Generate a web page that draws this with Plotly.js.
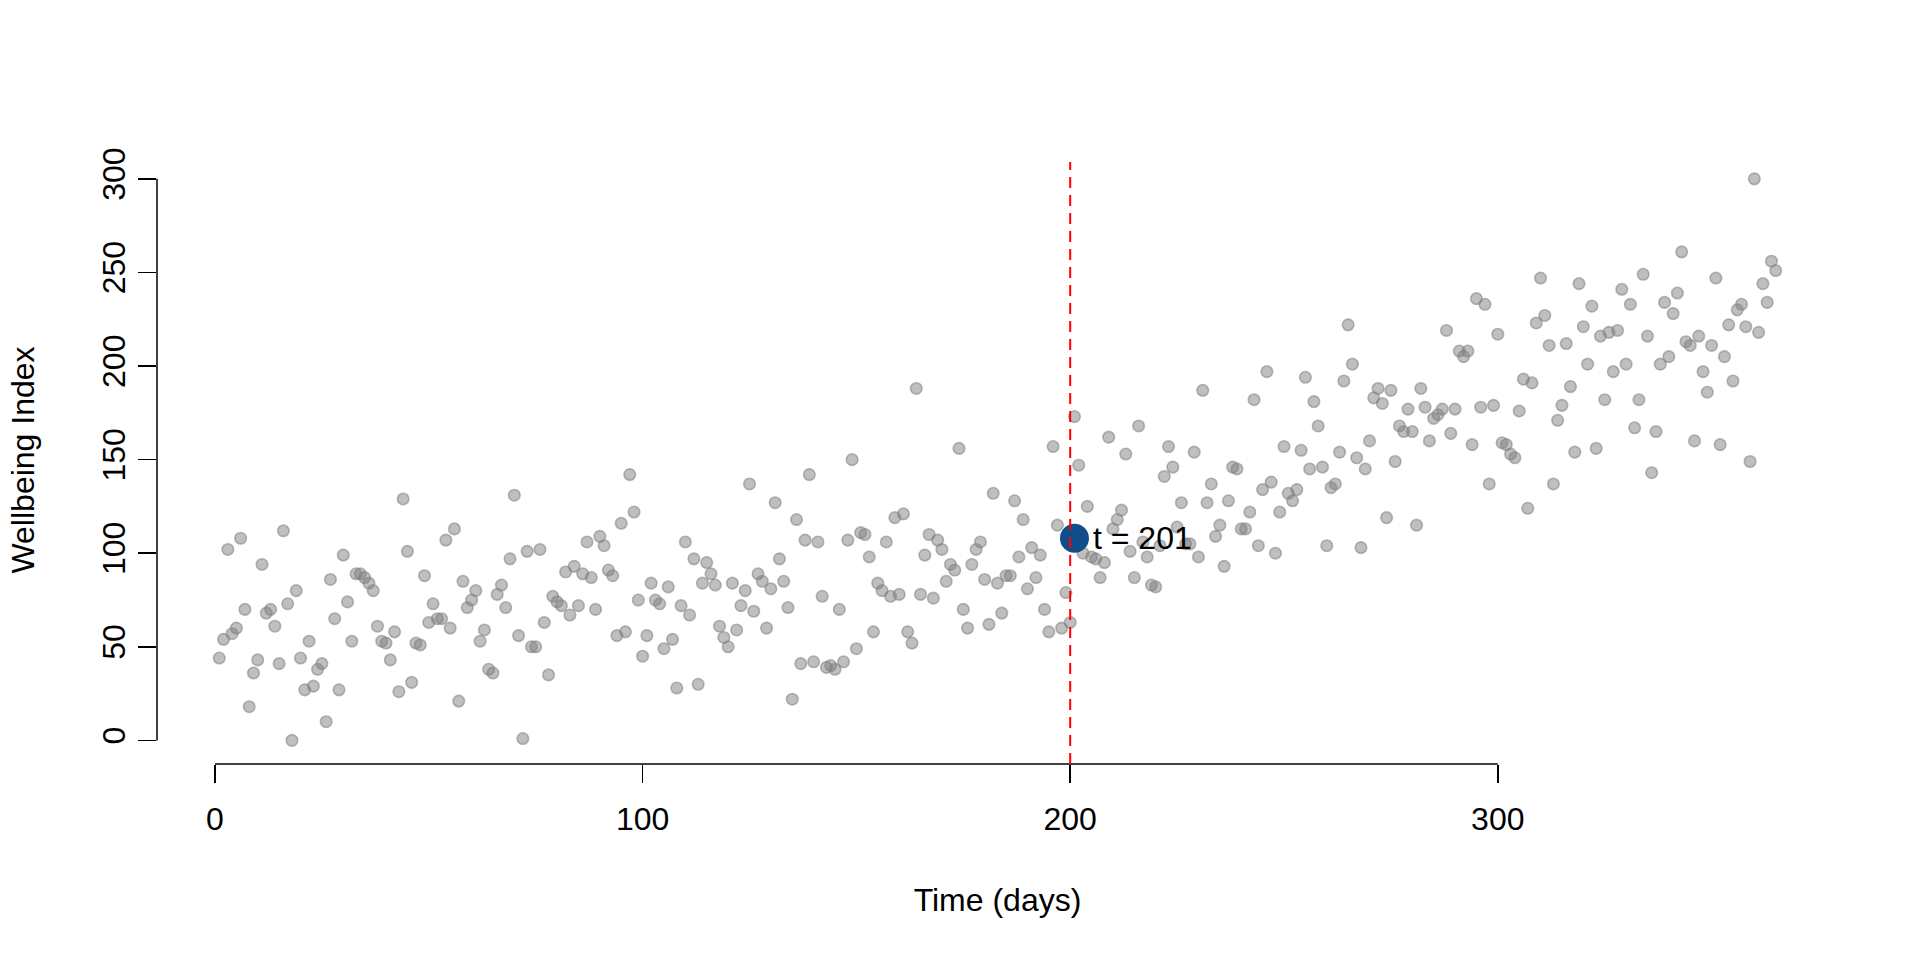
<!DOCTYPE html>
<html>
<head>
<meta charset="utf-8">
<script src="https://cdn.plot.ly/plotly-3.0.1.min.js"></script>
<style>
  html, body { margin: 0; padding: 0; background: #fff; }
  #wellbeing { width: 1920px; height: 960px; }
</style>
</head>
<body>
<div id="wellbeing"></div>
<script>
// daily wellbeing index, days 1..365
var wellbeing = [
  44, 54, 102, 57, 60, 108, 70, 18, 36, 43, 94, 68, 70, 61, 41, 112, 73, 0, 80, 44,
  27, 53, 29, 38, 41, 10, 86, 65, 27, 99, 74, 53, 89, 89, 87, 84, 80, 61, 53, 52,
  43, 58, 26, 129, 101, 31, 52, 51, 88, 63, 73, 65, 65, 107, 60, 113, 21, 85, 71, 75,
  80, 53, 59, 38, 36, 78, 83, 71, 97, 131, 56, 1, 101, 50, 50, 102, 63, 35, 77, 74,
  72, 90, 67, 93, 72, 89, 106, 87, 70, 109, 104, 91, 88, 56, 116, 58, 142, 122, 75, 45,
  56, 84, 75, 73, 49, 82, 54, 28, 72, 106, 67, 97, 30, 84, 95, 89, 83, 61, 55, 50,
  84, 59, 72, 80, 137, 69, 89, 85, 60, 81, 127, 97, 85, 71, 22, 118, 41, 107, 142, 42,
  106, 77, 39, 40, 38, 70, 42, 107, 150, 49, 111, 110, 98, 58, 84, 80, 106, 77, 119, 78,
  121, 58, 52, 188, 78, 99, 110, 76, 107, 102, 85, 94, 91, 156, 70, 60, 94, 102, 106, 86,
  62, 132, 84, 68, 88, 88, 128, 98, 118, 81, 103, 87, 99, 70, 58, 157, 115, 60, 79, 63,
  173, 147, 100, 125, 98, 97, 87, 95, 162, 113, 118, 123, 153, 101, 87, 168, 106, 98, 83, 82,
  104, 141, 157, 146, 114, 127, 105, 105, 154, 98, 187, 127, 137, 109, 115, 93, 128, 146, 145, 113,
  113, 122, 182, 104, 134, 197, 138, 100, 122, 157, 132, 128, 134, 155, 194, 145, 181, 168, 146, 104,
  135, 137, 154, 192, 222, 201, 151, 103, 145, 160, 183, 188, 180, 119, 187, 149, 168, 165, 177, 165,
  115, 188, 178, 160, 172, 174, 177, 219, 164, 177, 208, 205, 208, 158, 236, 178, 233, 137, 179, 217,
  159, 158, 153, 151, 176, 193, 124, 191, 223, 247, 227, 211, 137, 171, 179, 212, 189, 154, 244, 221,
  201, 232, 156, 216, 182, 218, 197, 219, 241, 201, 233, 167, 182, 249, 216, 143, 165, 201, 234, 205,
  228, 239, 261, 213, 211, 160, 216, 197, 186, 211, 247, 158, 205, 222, 192, 230, 233, 221, 149, 300,
  218, 244, 234, 256, 251
];
var days = wellbeing.map(function (v, i) { return i + 1; });

var xTicks = [0, 100, 200, 300];
var yTicks = [0, 50, 100, 150, 200, 250, 300];

var cutDay = 200;          // red dashed marker
var highlightDay = 201;    // blue point
var highlightValue = 108;
var highlightLabel = 't = 201';

var font = 'Liberation Sans, Arial, sans-serif';
var fs = 32;

var points = {
  x: days,
  y: wellbeing,
  type: 'scatter',
  mode: 'markers',
  marker: {
    size: 11.5,
    color: 'rgba(128,128,128,0.5)',
    line: { color: 'rgba(128,128,128,0.55)', width: 1.6 }
  },
  hoverinfo: 'x+y',
  showlegend: false
};

var highlight = {
  x: [highlightDay],
  y: [highlightValue],
  type: 'scatter',
  mode: 'markers',
  marker: { size: 29, color: '#104E8B' },
  showlegend: false
};

var layout = {
  width: 1920,
  height: 960,
  paper_bgcolor: '#fff',
  plot_bgcolor: '#fff',
  margin: { l: 157, r: 82, t: 156, b: 196, pad: 0 },
  font: { family: font, color: '#000', size: fs },
  xaxis: {
    range: [-13.56, 379.56],
    tickvals: xTicks,
    ticktext: xTicks.map(String),
    ticks: 'outside',
    ticklen: 18,
    tickwidth: 1.5,
    tickcolor: '#000',
    ticklabelstandoff: 9,
    showline: false,
    showgrid: false,
    zeroline: false,
    automargin: false,
    tickfont: { family: font, size: fs, color: '#000' },
    title: { text: 'Time (days)', font: { family: font, size: fs, color: '#000' }, standoff: 52 }
  },
  yaxis: {
    range: [-12.6, 312.2],
    tickvals: yTicks,
    ticktext: yTicks.map(String),
    tickangle: -90,
    ticks: 'outside',
    ticklen: 18,
    tickwidth: 1.5,
    tickcolor: '#000',
    showline: false,
    showgrid: false,
    zeroline: false,
    automargin: false,
    tickfont: { family: font, size: fs, color: '#000' },
    title: { text: 'Wellbeing Index', font: { family: font, size: fs, color: '#000' }, standoff: 52 }
  },
  shapes: [
    // axis lines only span the tick range, like base R
    { type: 'line', xref: 'x', yref: 'paper', x0: xTicks[0], x1: xTicks[xTicks.length - 1], y0: 0, y1: 0,
      line: { color: '#000', width: 1.5 } },
    { type: 'line', xref: 'paper', yref: 'y', x0: 0, x1: 0, y0: yTicks[0], y1: yTicks[yTicks.length - 1],
      line: { color: '#000', width: 1.5 } },
    { type: 'line', xref: 'x', yref: 'paper', x0: cutDay, x1: cutDay, y0: 0, y1: 0.99, layer: 'above',
      line: { color: '#FF0000', width: 2, dash: '11px,7px' } }
  ],
  annotations: [
    { x: highlightDay, y: highlightValue, xref: 'x', yref: 'y', text: highlightLabel,
      showarrow: false, xanchor: 'left', yanchor: 'middle', xshift: 17,
      font: { family: font, size: fs, color: '#000' } }
  ]
};

Plotly.newPlot(document.getElementById('wellbeing'), [points, highlight], layout, { displayModeBar: false, staticPlot: true });
</script>
</body>
</html>
